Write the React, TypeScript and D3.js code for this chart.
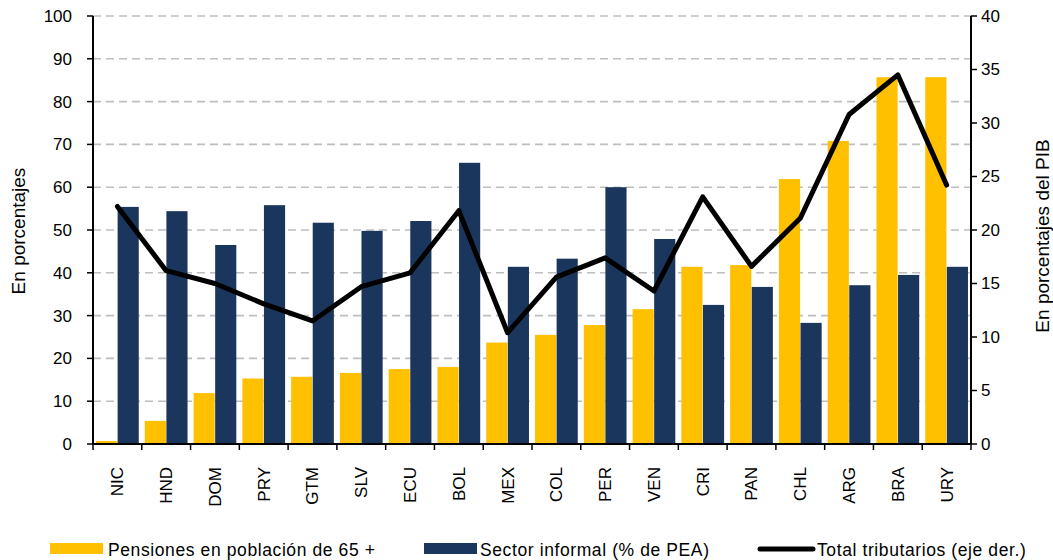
import React from 'react'
import * as d3 from 'd3'

// data
const countries = ['NIC', 'HND', 'DOM', 'PRY', 'GTM', 'SLV', 'ECU', 'BOL', 'MEX', 'COL', 'PER', 'VEN', 'CRI', 'PAN', 'CHL', 'ARG', 'BRA', 'URY']
const pensiones = [0.7, 5.4, 11.9, 15.3, 15.7, 16.6, 17.5, 18.0, 23.7, 25.5, 27.8, 31.5, 41.4, 41.8, 61.9, 70.8, 85.7, 85.7]
const informal = [55.4, 54.4, 46.5, 55.8, 51.7, 49.8, 52.1, 65.7, 41.4, 43.3, 60.0, 47.9, 32.5, 36.7, 28.3, 37.1, 39.5, 41.4]
const tributarios = [22.2, 16.2, 15.0, 13.1, 11.5, 14.7, 16.0, 21.8, 10.4, 15.6, 17.4, 14.3, 23.1, 16.6, 21.1, 30.8, 34.5, 24.2]
const leftTicks = [0, 10, 20, 30, 40, 50, 60, 70, 80, 90, 100]
const rightTicks = [0, 5, 10, 15, 20, 25, 30, 35, 40]
const seriesNames = ['Pensiones en población  de 65 +', 'Sector informal (% de PEA)', 'Total tributarios (eje der.)']

const YELLOW = '#FFC000'
const NAVY = '#1B365D'
const FONT = 'Liberation Sans, Arial, sans-serif'

const W = 1053
const H = 560
const left = 93
const right = 971
const top = 16
const bottom = 444

export default function App() {
  const x = d3.scaleBand<string>().domain(countries).range([left, right]).paddingInner(0).paddingOuter(0)
  const inner = d3.scaleBand<string>().domain(['p', 'i']).range([0, x.bandwidth()]).paddingInner(0.02).paddingOuter(0.14)
  const yL = d3.scaleLinear().domain([0, 100]).range([bottom, top])
  const yR = d3.scaleLinear().domain([0, 40]).range([bottom, top])

  const line = d3.line<number>()
    .x((_, i) => (x(countries[i]) as number) + x.bandwidth() / 2)
    .y(d => yR(d))

  const boundaries = countries.map(c => x(c) as number).concat([right])

  return (
    <svg width={W} height={H} style={{ position: 'absolute', left: 0, top: 0, background: '#fff' }} fontFamily={FONT}>
      {/* gridlines */}
      {leftTicks.filter(t => t > 0).map(t => (
        <line key={'g' + t} x1={left} x2={right} y1={yL(t)} y2={yL(t)} stroke="#BEBEBE" strokeWidth={1.6} strokeDasharray="8,5" />
      ))}

      {/* bars */}
      {countries.map((c, i) => (
        <g key={c}>
          <rect x={(x(c) as number) + (inner('p') as number)} y={yL(pensiones[i])} width={inner.bandwidth()} height={bottom - yL(pensiones[i])} fill={YELLOW} />
          <rect x={(x(c) as number) + (inner('i') as number)} y={yL(informal[i])} width={inner.bandwidth()} height={bottom - yL(informal[i])} fill={NAVY} />
        </g>
      ))}

      {/* line on right axis */}
      <path d={line(tributarios) || ''} fill="none" stroke="#000" strokeWidth={5} strokeLinejoin="round" strokeLinecap="round" />

      {/* left axis */}
      <line x1={left} x2={left} y1={top} y2={bottom} stroke="#000" strokeWidth={2} />
      {leftTicks.map(t => (
        <g key={'l' + t}>
          <line x1={left - 6} x2={left} y1={yL(t)} y2={yL(t)} stroke="#000" strokeWidth={1.5} />
          <text x={72} y={yL(t)} dy="0.35em" textAnchor="end" fontSize={17} fill="#000">{t}</text>
        </g>
      ))}
      <text transform={`translate(25,231) rotate(-90)`} textAnchor="middle" fontSize={19} fill="#000">En porcentajes</text>

      {/* right axis */}
      <line x1={right} x2={right} y1={top} y2={bottom} stroke="#000" strokeWidth={2} />
      {rightTicks.map(t => (
        <g key={'r' + t}>
          <line x1={right} x2={right + 6} y1={yR(t)} y2={yR(t)} stroke="#000" strokeWidth={1.5} />
          <text x={981} y={yR(t)} dy="0.35em" textAnchor="start" fontSize={17} fill="#000">{t}</text>
        </g>
      ))}
      <text transform={`translate(1049,236) rotate(-90)`} textAnchor="middle" fontSize={19} fill="#000">En porcentajes del PIB</text>

      {/* bottom axis */}
      <line x1={left} x2={right} y1={bottom} y2={bottom} stroke="#000" strokeWidth={2} />
      {boundaries.map((b, i) => (
        <line key={'b' + i} x1={b} x2={b} y1={bottom} y2={bottom + 6} stroke="#000" strokeWidth={1.5} />
      ))}
      {countries.map(c => (
        <text key={'t' + c} transform={`translate(${(x(c) as number) + x.bandwidth() / 2},467) rotate(-90)`} dy="0.35em" textAnchor="end" fontSize={17} fill="#000">{c}</text>
      ))}

      {/* legend */}
      <g fontSize={17.5} letterSpacing={0.6} fill="#000">
        <rect x={50} y={543} width={53} height={11} fill={YELLOW} />
        <text x={108} y={556}>{seriesNames[0]}</text>
        <rect x={424} y={543} width={53} height={11} fill={NAVY} />
        <text x={480} y={556}>{seriesNames[1]}</text>
        <line x1={760} x2={813} y1={549} y2={549} stroke="#000" strokeWidth={5} strokeLinecap="round" />
        <text x={817} y={556}>{seriesNames[2]}</text>
      </g>
    </svg>
  )
}
